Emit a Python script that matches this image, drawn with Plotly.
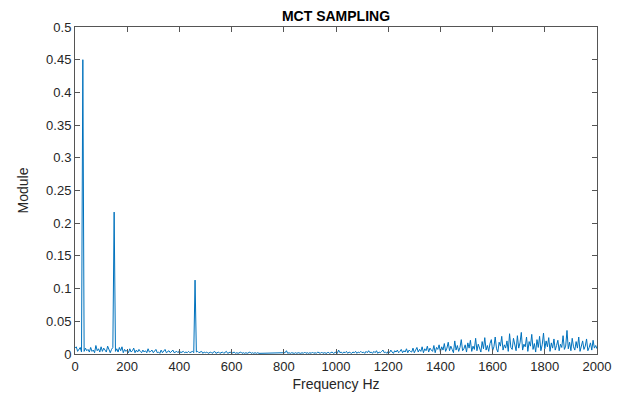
import plotly.graph_objects as go

# Frequency grid (Hz), 5 Hz resolution
freq_step = 5
frequency_hz = list(range(0, 2001, freq_step))

# Spectrum magnitude in blocks of 100 Hz
mod_0000 = [0.009, 0.011, 0.004, 0.008, 0.010, 0.003, 0.450, 0.004, 0.009, 0.005,
            0.007, 0.003, 0.010, 0.004, 0.006, 0.002, 0.013, 0.005, 0.008, 0.003]
mod_0100 = [0.011, 0.004, 0.009, 0.006, 0.003, 0.012, 0.005, 0.002, 0.007, 0.010,
            0.217, 0.004, 0.008, 0.003, 0.010, 0.005, 0.011, 0.002, 0.007, 0.004]
mod_0200 = [0.006, 0.002, 0.008, 0.003, 0.005, 0.009, 0.002, 0.006, 0.003, 0.007,
            0.004, 0.002, 0.006, 0.003, 0.005, 0.002, 0.008, 0.003, 0.004, 0.006]
mod_0300 = [0.002, 0.005, 0.007, 0.002, 0.003, 0.001, 0.006, 0.002, 0.004, 0.007,
            0.002, 0.003, 0.005, 0.002, 0.004, 0.006, 0.002, 0.003, 0.004, 0.002]
mod_0400 = [0.005, 0.002, 0.003, 0.004, 0.002, 0.003, 0.002, 0.004, 0.002, 0.003,
            0.004, 0.002, 0.113, 0.003, 0.004, 0.002, 0.003, 0.004, 0.001, 0.003]
mod_0500 = [0.002, 0.003, 0.001, 0.002, 0.003, 0.001, 0.002, 0.004, 0.001, 0.002,
            0.003, 0.001, 0.002, 0.003, 0.001, 0.002, 0.004, 0.001, 0.002, 0.003]
mod_0600 = [0.001, 0.002, 0.003, 0.001, 0.002, 0.001, 0.002, 0.003, 0.001, 0.002,
            0.001, 0.002, 0.001, 0.002, 0.003, 0.001, 0.002, 0.001, 0.002, 0.001]
mod_0700 = [0.002, 0.001, 0.001, 0.002, 0.001, 0.002, 0.001, 0.001, 0.002, 0.001,
            0.001, 0.002, 0.001, 0.001, 0.002, 0.001, 0.002, 0.001, 0.001, 0.002]
mod_0800 = [0.001, 0.002, 0.005, 0.001, 0.002, 0.001, 0.002, 0.001, 0.001, 0.002,
            0.001, 0.002, 0.001, 0.001, 0.002, 0.001, 0.003, 0.001, 0.002, 0.001]
mod_0900 = [0.002, 0.001, 0.003, 0.001, 0.002, 0.001, 0.003, 0.002, 0.001, 0.003,
            0.001, 0.002, 0.002, 0.001, 0.003, 0.001, 0.002, 0.003, 0.001, 0.002]
mod_1000 = [0.003, 0.001, 0.006, 0.002, 0.003, 0.001, 0.003, 0.002, 0.004, 0.001,
            0.003, 0.002, 0.001, 0.003, 0.002, 0.004, 0.001, 0.003, 0.002, 0.004]
mod_1100 = [0.002, 0.003, 0.001, 0.004, 0.002, 0.005, 0.002, 0.003, 0.001, 0.004,
            0.002, 0.005, 0.001, 0.003, 0.002, 0.004, 0.006, 0.002, 0.003, 0.001]
mod_1200 = [0.004, 0.002, 0.006, 0.003, 0.001, 0.005, 0.003, 0.006, 0.002, 0.004,
            0.007, 0.002, 0.005, 0.003, 0.008, 0.002, 0.006, 0.004, 0.003, 0.009]
mod_1300 = [0.002, 0.006, 0.010, 0.003, 0.007, 0.004, 0.011, 0.002, 0.008, 0.005,
            0.012, 0.003, 0.009, 0.006, 0.004, 0.013, 0.002, 0.010, 0.007, 0.014]
mod_1400 = [0.003, 0.011, 0.006, 0.016, 0.004, 0.009, 0.018, 0.005, 0.012, 0.007,
            0.002, 0.020, 0.006, 0.013, 0.004, 0.010, 0.022, 0.005, 0.008, 0.014]
mod_1500 = [0.003, 0.017, 0.009, 0.021, 0.004, 0.012, 0.007, 0.024, 0.005, 0.015,
            0.010, 0.003, 0.019, 0.008, 0.025, 0.006, 0.013, 0.004, 0.016, 0.022]
mod_1600 = [0.005, 0.011, 0.026, 0.008, 0.003, 0.018, 0.012, 0.027, 0.006, 0.014,
            0.009, 0.020, 0.004, 0.031, 0.010, 0.007, 0.024, 0.013, 0.005, 0.028]
mod_1700 = [0.009, 0.017, 0.033, 0.006, 0.015, 0.011, 0.026, 0.004, 0.019, 0.012,
            0.030, 0.007, 0.016, 0.003, 0.022, 0.010, 0.027, 0.005, 0.014, 0.032]
mod_1800 = [0.008, 0.020, 0.011, 0.025, 0.004, 0.017, 0.009, 0.023, 0.006, 0.013,
            0.021, 0.005, 0.015, 0.010, 0.028, 0.007, 0.012, 0.036, 0.008, 0.018]
mod_1900 = [0.005, 0.024, 0.011, 0.006, 0.019, 0.009, 0.026, 0.004, 0.014, 0.020,
            0.007, 0.012, 0.023, 0.005, 0.010, 0.017, 0.006, 0.021, 0.009, 0.013,
            0.008]

module = (mod_0000 + mod_0100 + mod_0200 + mod_0300 + mod_0400 + mod_0500 +
          mod_0600 + mod_0700 + mod_0800 + mod_0900 + mod_1000 + mod_1100 +
          mod_1200 + mod_1300 + mod_1400 + mod_1500 + mod_1600 + mod_1700 +
          mod_1800 + mod_1900)

x_ticks = list(range(0, 2001, 200))
y_ticks = [0, 0.05, 0.1, 0.15, 0.2, 0.25, 0.3, 0.35, 0.4, 0.45, 0.5]
y_tick_labels = ["0", "0.05", "0.1", "0.15", "0.2", "0.25", "0.3", "0.35", "0.4", "0.45", "0.5"]

fig = go.Figure()
fig.add_trace(go.Scatter(
    x=frequency_hz, y=module, mode="lines",
    line=dict(color="#0072BD", width=1),
    showlegend=False,
))

axis_font = dict(family="Liberation Sans, Arial, sans-serif", size=13, color="#262626")
label_font = dict(family="Liberation Sans, Arial, sans-serif", size=14, color="#262626")

# the page body adds an 8px offset, so margins are shifted accordingly
fig.update_layout(
    width=632, height=403,
    margin=dict(l=67, r=43, t=14, b=57),
    paper_bgcolor="white", plot_bgcolor="white",
    title=dict(text="<b>MCT SAMPLING</b>", x=(67 + 589) / 2 / 632, xanchor="center",
               y=1 - 8 / 403, yanchor="middle", yref="container",
               font=dict(family="Liberation Sans, Arial, sans-serif", size=14, color="#000000")),
    font=axis_font,
)
fig.update_xaxes(
    range=[0, 2000], tickvals=x_ticks, ticks="inside", ticklen=5, tickcolor="#555555",
    showline=True, linecolor="#555555", linewidth=1, mirror="ticks",
    showgrid=False, zeroline=False, tickfont=axis_font,
    title=dict(text="Frequency Hz", font=label_font, standoff=6),
)
fig.update_yaxes(
    range=[0, 0.5], tickvals=y_ticks, ticktext=y_tick_labels, ticks="inside", ticklen=5,
    tickcolor="#555555", showline=True, linecolor="#555555", linewidth=1, mirror="ticks",
    showgrid=False, zeroline=False, tickfont=axis_font,
    title=dict(text="Module", font=label_font, standoff=14),
)

fig.write_html("out.html")
